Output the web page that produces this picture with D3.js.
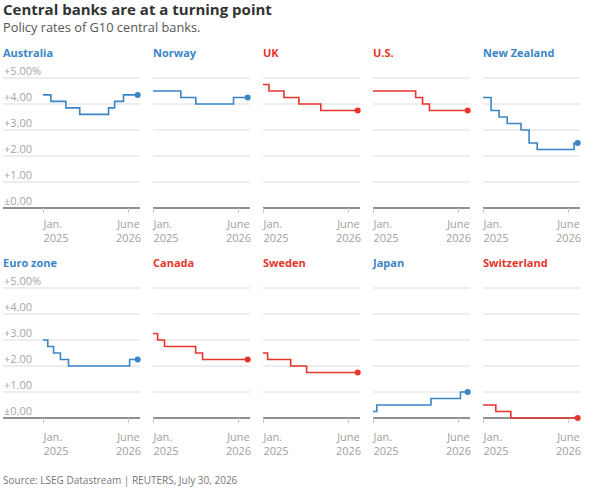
<!DOCTYPE html>
<html lang="en">
  <head>
    <meta charset="UTF-8">
    <title>Central banks are at a turning point</title>
    <script src="https://d3js.org/d3.v7.min.js"></script>
    <style>
      body { margin: 0; background: #fff; }
      text { font-family: "Open Sans", "Noto Sans", sans-serif; }
    </style>
  </head>
  <body>

<script>
  // policy rate changes: [date, rate %]
  const australia   = [["2025-01-01", 4.35], ["2025-02-18", 4.10], ["2025-05-20", 3.85], ["2025-08-12", 3.60], ["2026-02-03", 3.85], ["2026-03-12", 4.10], ["2026-05-05", 4.35]];
  const norway      = [["2025-01-01", 4.50], ["2025-06-19", 4.25], ["2025-09-18", 4.00], ["2026-05-05", 4.25]];
  const uk          = [["2025-01-01", 4.75], ["2025-02-06", 4.50], ["2025-05-08", 4.25], ["2025-08-07", 4.00], ["2025-12-18", 3.75]];
  const us          = [["2025-01-01", 4.50], ["2025-09-17", 4.25], ["2025-10-29", 4.00], ["2025-12-10", 3.75]];
  const newZealand  = [["2025-01-01", 4.25], ["2025-02-19", 3.75], ["2025-04-09", 3.50], ["2025-05-28", 3.25], ["2025-08-20", 3.00], ["2025-10-08", 2.50], ["2025-11-26", 2.25], ["2026-07-08", 2.50]];
  const euroZone    = [["2025-01-01", 3.00], ["2025-01-30", 2.75], ["2025-03-06", 2.50], ["2025-04-17", 2.25], ["2025-06-05", 2.00], ["2026-06-11", 2.25]];
  const canada      = [["2025-01-01", 3.25], ["2025-01-29", 3.00], ["2025-03-12", 2.75], ["2025-09-17", 2.50], ["2025-10-29", 2.25]];
  const sweden      = [["2025-01-01", 2.50], ["2025-01-29", 2.25], ["2025-06-18", 2.00], ["2025-09-23", 1.75]];
  const japan       = [["2025-01-01", 0.25], ["2025-01-24", 0.50], ["2025-12-19", 0.75], ["2026-06-16", 1.00]];
  const switzerland = [["2025-01-01", 0.50], ["2025-03-20", 0.25], ["2025-06-19", 0.00]];

  const countries = ["Australia", "Norway", "UK", "U.S.", "New Zealand",
                     "Euro zone", "Canada", "Sweden", "Japan", "Switzerland"];
  const series = [australia, norway, uk, us, newZealand,
                  euroZone, canada, sweden, japan, switzerland];
  const lastDate = "2026-07-30";
  const yTicks = [0, 1, 2, 3, 4, 5];
  const xTicks = ["2025-01-01", "2026-06-01"];
  const xTickLabels = [["Jan.", "2025"], ["June", "2026"]];

  const w = 602;
  const h = 490;
  const pw = 97;       // panel plot width
  const colStep = 110;
  const left = 43;
  const rowTop = 78;   // y of the 5% line in first row
  const ph = 130;      // 5% -> 0%
  const rowStep = 210;

  const blue = "#3a85c6";
  const red = "#e5352d";

  const parse = d3.timeParse("%Y-%m-%d");

  const x = d3.scaleTime()
              .domain([parse("2025-01-01"), parse("2026-08-13")])
              .range([0, pw]);
  const y = d3.scaleLinear()
              .domain([0, 5])
              .range([ph, 0]);

  const svg = d3.select("body")
                .append("svg")
                .attr("width", w)
                .attr("height", h);

  svg.append("text")
     .attr("x", 3).attr("y", 15)
     .attr("font-size", 15).attr("font-weight", 700)
     .attr("fill", "#333")
     .text("Central banks are at a turning point");

  svg.append("text")
     .attr("x", 3).attr("y", 32)
     .attr("font-size", 12.8).attr("fill", "#555")
     .text("Policy rates of G10 central banks.");

  svg.append("text")
     .attr("x", 3).attr("y", 484)
     .attr("font-size", 10).attr("fill", "#777")
     .text("Source: LSEG Datastream | REUTERS, July 30, 2026");

  const line = d3.line()
                 .curve(d3.curveStepAfter)
                 .x(d => x(d.date))
                 .y(d => y(d.rate));

  countries.forEach((name, i) => {
    const col = i % 5;
    const row = Math.floor(i / 5);
    const g = svg.append("g")
                 .attr("transform", `translate(${left + col * colStep}, ${rowTop + row * rowStep})`);

    const data = series[i].map(d => ({ date: parse(d[0]), rate: d[1] }));
    const last = data[data.length - 1];
    data.push({ date: parse(lastDate), rate: last.rate });
    const rising = last.rate > data[data.length - 3].rate;
    const color = rising ? blue : red;

    const gx0 = col === 0 ? -40 : 0;

    // gridlines
    g.selectAll(".grid")
     .data(yTicks)
     .enter()
     .append("line")
     .attr("x1", gx0).attr("x2", pw)
     .attr("y1", d => y(d)).attr("y2", d => y(d))
     .attr("stroke", d => d === 0 ? "#6b6b6b" : "#dcdcdc")
     .attr("stroke-width", d => d === 0 ? 1.3 : 1);

    if (col === 0) {
      g.selectAll(".ylab")
       .data(yTicks)
       .enter()
       .append("text")
       .attr("x", gx0 + 1)
       .attr("y", d => y(d) - 3.5)
       .attr("font-size", 11)
       .attr("fill", "#a6a6a6")
       .text(d => (d === 0 ? "\u00b1" : "+") + d3.format(".2f")(d) + (d === 5 ? "%" : ""));
    }

    // x axis ticks
    const xAxis = d3.axisBottom(x)
                    .tickValues(xTicks.map(parse))
                    .tickSize(5)
                    .tickSizeOuter(0)
                    .tickFormat("");
    const ax = g.append("g")
                .attr("transform", `translate(0, ${ph})`)
                .call(xAxis);
    ax.select(".domain").remove();
    ax.selectAll(".tick line").attr("stroke", "#c8c8c8");

    ax.selectAll(".tick")
      .each(function(d, k) {
        const t = d3.select(this).append("text")
                    .attr("fill", "#a0a0a0")
                    .attr("font-size", 11)
                    .attr("text-anchor", k === 0 ? "start" : "middle");
        t.append("tspan").attr("x", 0).attr("y", row === 0 ? 20 : 23).text(xTickLabels[k][0]);
        t.append("tspan").attr("x", 0).attr("y", row === 0 ? 34 : 37).text(xTickLabels[k][1]);
      });

    g.append("text")
     .attr("x", col === 0 ? -40 : 0)
     .attr("y", -21)
     .attr("font-size", 11).attr("font-weight", 700)
     .attr("fill", color)
     .text(name);

    g.append("path")
     .datum(data)
     .attr("d", line)
     .attr("fill", "none")
     .attr("stroke", color)
     .attr("stroke-width", 1.6);

    g.append("circle")
     .attr("cx", x(parse(lastDate)))
     .attr("cy", y(last.rate))
     .attr("r", 3)
     .attr("fill", color);
  });
</script>

  </body>
</html>
